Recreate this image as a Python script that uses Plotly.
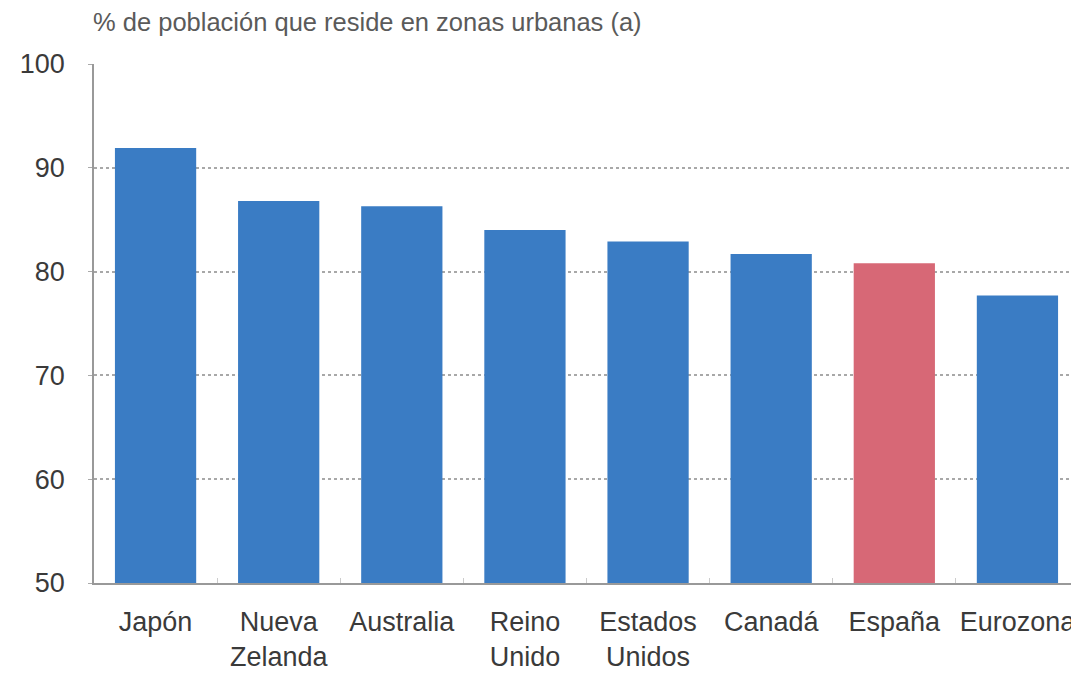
import plotly.graph_objects as go

categories = ["Japón", "Nueva<br>Zelanda", "Australia", "Reino<br>Unido", "Estados<br>Unidos", "Canadá", "España", "Eurozona"]
values = [91.9, 86.8, 86.3, 84.0, 82.9, 81.7, 80.8, 77.7]
highlight = "España"
y_ticks = [50, 60, 70, 80, 90, 100]
title = "% de población que reside en zonas urbanas (a)"

blue = "#3A7CC4"
red = "#D76876"
colors = [red if c == highlight else blue for c in categories]

fig = go.Figure(go.Bar(x=categories, y=values, marker=dict(color=colors, line=dict(width=0)),
                       width=0.66))

# page body has an 8px default margin, so the figure is sized to fit the window
fig.update_layout(
    width=1071, height=669,
    margin=dict(l=86, r=0, t=56, b=94),
    paper_bgcolor="white", plot_bgcolor="white",
    font=dict(family="Liberation Sans, Arial, sans-serif", color="#3A3A3A", size=27),
    showlegend=False,
    annotations=[dict(text=title, xref="paper", yref="paper",
                      x=-0.003, y=1.0, yshift=42, xanchor="left", yanchor="middle", showarrow=False,
                      font=dict(size=25.5, color="#5A5A5A"))],
)
fig.update_yaxes(range=[50, 100], tickvals=y_ticks, showgrid=True, gridcolor="#A8A8A8", griddash="dot",
                 gridwidth=2, showline=True, linecolor="#999999", linewidth=1.5, ticks="outside",
                 ticklen=4, tickcolor="#AAAAAA", ticklabelstandoff=18, zeroline=False, automargin=False)
fig.update_xaxes(showline=True, linecolor="#999999", linewidth=1.5, showgrid=False, ticks="inside",
                 tickson="boundaries", ticklen=5, tickcolor="#CCCCCC", tickangle=0,
                 ticklabelstandoff=14, automargin=False)

fig.write_html("out.html")
